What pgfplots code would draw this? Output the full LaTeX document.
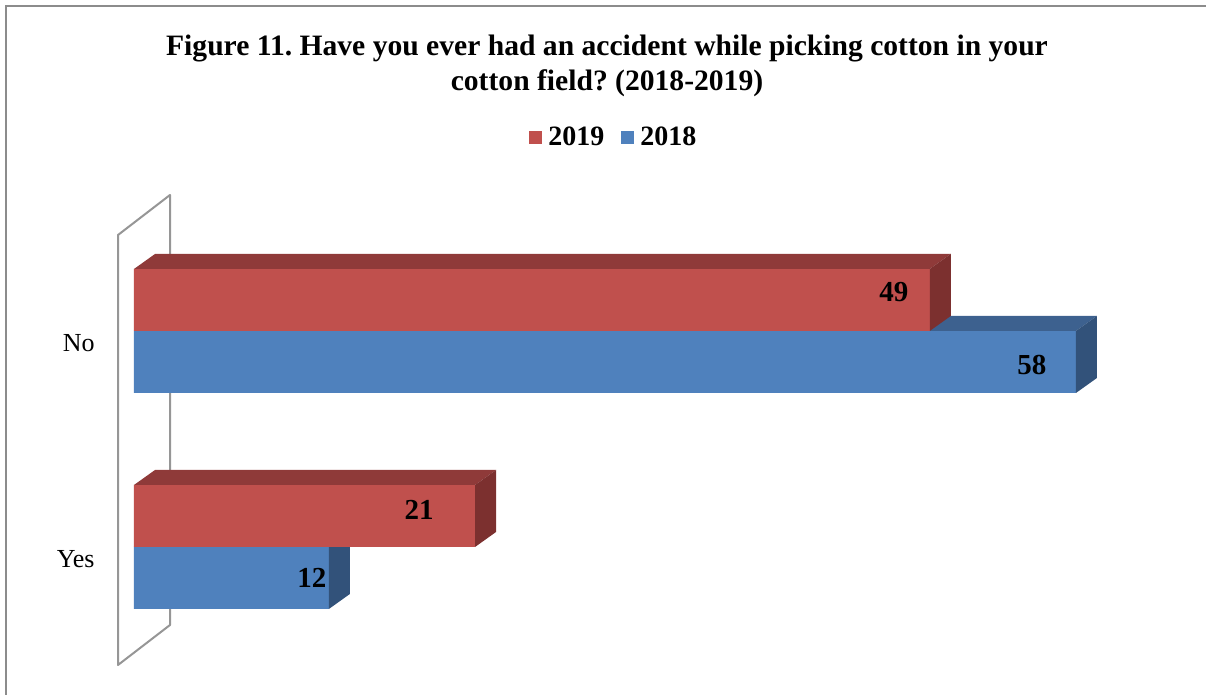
\documentclass[border=0pt]{standalone}
\usepackage{pgfplots}
\usepackage{pgfplotstable}
\pgfplotsset{compat=1.18}
\usepackage{fontspec}
\setmainfont{Liberation Serif}

\definecolor{rfront}{HTML}{C0504D}
\definecolor{rtop}{HTML}{8F3A39}
\definecolor{rside}{HTML}{7C302F}
\definecolor{bfront}{HTML}{4F81BD}
\definecolor{btop}{HTML}{3D618F}
\definecolor{bside}{HTML}{32527A}
\definecolor{framegray}{HTML}{8C8C8C}
\definecolor{wallgray}{HTML}{969696}

\pgfplotstableread{
cat y2019 y2018 dxa dya dxb dyb
Yes 21 12 -28 18.5 -8.5 -15.5
No 49 58 -18 19.5 -22 -17
}\datatable

% top and side faces of a 3D bar: #1 value, #2 bottom y, #3 top y, #4 top colour, #5 side colour
\newcommand\faces[5]{%
  \fill[#4] (axis cs:0,#3) -- (axis cs:#1,#3) -- ([shift={(10.5pt,7.5pt)}]axis cs:#1,#3) -- ([shift={(10.5pt,7.5pt)}]axis cs:0,#3) -- cycle;
  \fill[#5] (axis cs:#1,#2) -- (axis cs:#1,#3) -- ([shift={(10.5pt,7.5pt)}]axis cs:#1,#3) -- ([shift={(10.5pt,7.5pt)}]axis cs:#1,#2) -- cycle;
}

\begin{document}
\frenchspacing
\begin{tikzpicture}
\useasboundingbox (0,0) rectangle (603pt,347.5pt);
\draw[line width=1.2pt, color=framegray] (3pt,-2pt) -- (3pt,344.5pt) -- (606pt,344.5pt);
\draw[line width=1pt, color=wallgray, line join=round] (59pt,230pt) -- (85pt,250pt) -- (85pt,35pt) -- (59pt,15pt) -- cycle;
\node[font=\bfseries\fontsize{14.8}{17.5}\selectfont, align=center] at (303.5pt,314.75pt)
  {Figure 11. Have you ever had an accident while picking cotton in your\\cotton field? (2018-2019)};
\begin{axis}[
  at={(67pt,20pt)}, anchor=south west,
  x=8.12pt, y=108pt,
  xmin=0, xmax=60, ymin=-0.5, ymax=1.5,
  clip=false,
  axis line style={draw=none},
  xtick=\empty, ytick={0,1}, yticklabels={Yes,No},
  major tick length=0pt,
  yticklabel style={font=\fontsize{13}{15}\selectfont, inner sep=0pt, anchor=east, xshift=-19.5pt, yshift=-6pt},
  bar width=31pt,
  reverse legend,
  legend columns=-1,
  legend style={at={(0.4946,1.198)}, anchor=center, draw=none, fill=none,
    font=\bfseries\fontsize{14}{16}\selectfont,
    /tikz/every even column/.append style={column sep=5.5pt},
    nodes={inner sep=3pt}},
]
\addplot[xbar, bar shift=-15.5pt, fill=bfront, draw=none,
  point meta=explicit symbolic, nodes near coords,
  visualization depends on={\thisrow{dxb} \as \dx},
  visualization depends on={\thisrow{dyb} \as \dy},
  every node near coord/.append style={anchor=center, xshift=\dx pt, yshift=\dy pt,
    font=\bfseries\fontsize{14.5}{16}\selectfont, text=black},
  legend image code/.code={\fill[bfront] (0pt,-3.25pt) rectangle (6.5pt,3.25pt);}]
  table[x=y2018, y expr=\coordindex, meta=y2018] {\datatable};
\addlegendentry{2018}
\pgfplotsinvokeforeach{0,1}{%
  \pgfplotstablegetelem{#1}{y2018}\of\datatable
  \edef\tmp{\noexpand\faces{\pgfplotsretval}{\fpeval{#1-0.28704}}{#1}{btop}{bside}}%
  \tmp
}
\addplot[xbar, bar shift=15.5pt, fill=rfront, draw=none,
  point meta=explicit symbolic, nodes near coords,
  visualization depends on={\thisrow{dxa} \as \dx},
  visualization depends on={\thisrow{dya} \as \dy},
  every node near coord/.append style={anchor=center, xshift=\dx pt, yshift=\dy pt,
    font=\bfseries\fontsize{14.5}{16}\selectfont, text=black},
  legend image code/.code={\fill[rfront] (0pt,-3.25pt) rectangle (6.5pt,3.25pt);}]
  table[x=y2019, y expr=\coordindex, meta=y2019] {\datatable};
\addlegendentry{2019}
\pgfplotsinvokeforeach{0,1}{%
  \pgfplotstablegetelem{#1}{y2019}\of\datatable
  \edef\tmp{\noexpand\faces{\pgfplotsretval}{#1}{\fpeval{#1+0.28704}}{rtop}{rside}}%
  \tmp
}
\end{axis}
\end{tikzpicture}
\end{document}
